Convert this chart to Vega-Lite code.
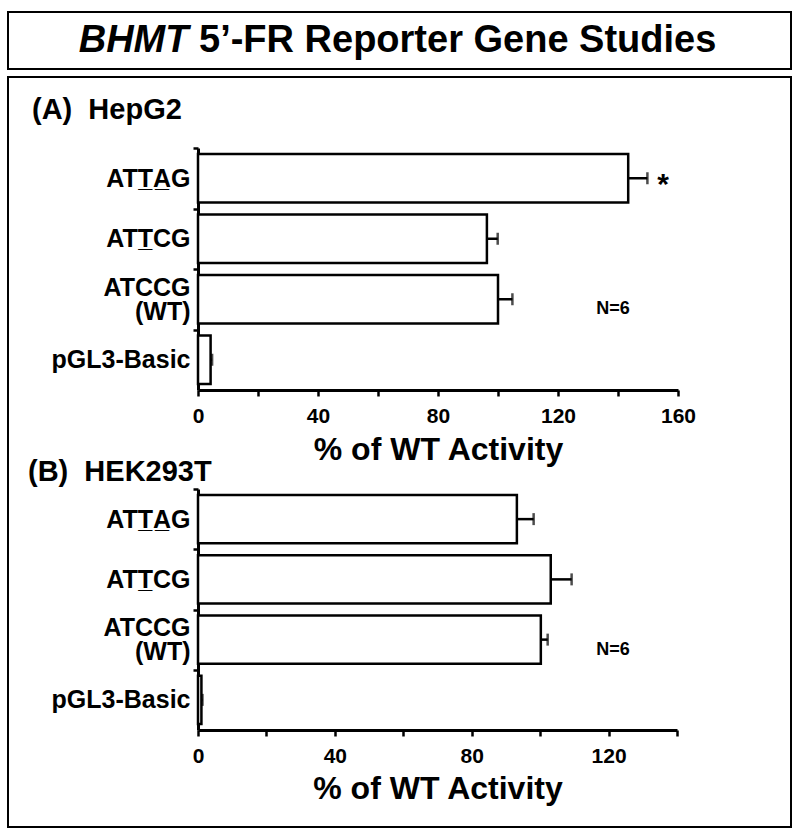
{
  "$schema": "https://vega.github.io/schema/vega-lite/v6.json",
  "padding": {"left": 7, "top": 11, "right": 0, "bottom": 0},
  "background": "white",
  "config": {
    "font": "Liberation Sans",
    "view": {"stroke": null},
    "axis": {"domainColor": "black", "domainWidth": 3, "tickColor": "black", "tickWidth": 2.5, "labelColor": "black", "titleColor": "black", "labelFont": "Liberation Sans", "titleFont": "Liberation Sans", "labelFontWeight": "bold", "titleFontWeight": "bold", "grid": false},
    "title": {"font": "Liberation Sans", "fontWeight": "bold", "color": "black"}
  },
  "datasets": {
    "hepg2": [
      {"construct": "ATTAG", "mean": 143.4, "upper": 149.8},
      {"construct": "ATTCG", "mean": 96.3, "upper": 99.9},
      {"construct": "ATCCG (WT)", "mean": 100, "upper": 104.8},
      {"construct": "pGL3-Basic", "mean": 4.2, "upper": 4.7}
    ],
    "hek": [
      {"construct": "ATTAG", "mean": 93.2, "upper": 98.1},
      {"construct": "ATTCG", "mean": 103.1, "upper": 109.2},
      {"construct": "ATCCG (WT)", "mean": 100.2, "upper": 102.2},
      {"construct": "pGL3-Basic", "mean": 1.0, "upper": 1.3}
    ]
  },
  "concat": [
    {
      "width": 783,
      "height": 57,
      "view": {"stroke": "black", "strokeWidth": 2},
      "layer": [
        {
          "data": {"values": [{"t": "BHMT"}]},
          "mark": {"type": "text", "font": "Liberation Sans", "fontWeight": "bold", "fontStyle": "italic", "fontSize": 38, "align": "right", "baseline": "middle", "dx": -211, "color": "black"},
          "encoding": {
            "text": {"field": "t"},
            "x": {"datum": 0.5, "type": "quantitative", "scale": {"domain": [0, 1]}, "axis": null},
            "y": {"datum": 0.5, "type": "quantitative", "scale": {"domain": [0, 1]}, "axis": null}
          }
        },
        {
          "data": {"values": [{"t": "5’-FR Reporter Gene Studies"}]},
          "mark": {"type": "text", "font": "Liberation Sans", "fontWeight": "bold", "fontSize": 38, "align": "left", "baseline": "middle", "dx": -200.5, "color": "black"},
          "encoding": {
            "text": {"field": "t"},
            "x": {"datum": 0.5, "type": "quantitative", "scale": {"domain": [0, 1]}, "axis": null},
            "y": {"datum": 0.5, "type": "quantitative", "scale": {"domain": [0, 1]}, "axis": null}
          }
        }
      ]
    },
    {
      "columns": 1,
      "align": "none",
      "spacing": -733,
      "concat": [
        {
          "width": 783,
          "height": 750,
          "view": {"stroke": "black", "strokeWidth": 2},
          "data": {"values": []},
          "mark": "point",
          "encoding": {}
        },
        {
          "spacing": 19,
          "hconcat": [
            {
              "width": 1,
              "height": 1,
              "data": {"values": []},
              "mark": "point",
              "encoding": {}
            },
            {
              "spacing": -8,
              "vconcat": [
                {
                  "width": 480,
                  "height": 242,
                  "title": {"text": "(A)\u00a0\u00a0HepG2", "anchor": "start", "frame": "group", "fontSize": 29, "dx": -166, "offset": 22},
                  "layer": [
                    {
                      "data": {"name": "hepg2"},
                      "mark": {"type": "bar", "fill": "white", "stroke": "black", "strokeWidth": 2.5},
                      "encoding": {
                        "y": {"field": "construct", "type": "nominal", "sort": ["ATTAG", "ATTCG", "ATCCG (WT)", "pGL3-Basic"], "scale": {"paddingInner": 0.2, "paddingOuter": 0.1}, "title": null,
                          "axis": {"labelFontSize": 25, "labelPadding": 3, "tickSize": 5, "bandPosition": 0, "tickOffset": -6, "labelLineHeight": 24, "labelLimit": 0,
                            "labelOffset": {"condition": {"test": "datum.value === 'ATCCG (WT)'", "value": -6}, "value": 6},
                            "labelExpr": "datum.value === 'ATTAG' ? 'ATT\u0332A\u0332G' : datum.value === 'ATTCG' ? 'ATT\u0332CG' : datum.value === 'ATCCG (WT)' ? ['ATCCG', '(WT)'] : datum.label"}},
                        "x": {"field": "mean", "type": "quantitative", "scale": {"domain": [0, 160], "nice": false}, "title": "% of WT Activity",
                          "axis": {"values": [0, 20, 40, 60, 80, 100, 120, 140, 160], "labelExpr": "datum.value % 40 === 0 ? datum.label : ''", "labelFontSize": 21, "titleFontSize": 32, "tickSize": 6, "labelPadding": 9, "titlePadding": 8, "labelFlush": false, "labelOverlap": false}}
                      }
                    },
                    {
                      "data": {"name": "hepg2"},
                      "mark": {"type": "rule", "stroke": "black", "strokeWidth": 2.5},
                      "encoding": {
                        "y": {"field": "construct", "type": "nominal", "sort": ["ATTAG", "ATTCG", "ATCCG (WT)", "pGL3-Basic"], "title": null},
                        "x": {"field": "mean", "type": "quantitative", "title": "% of WT Activity"},
                        "x2": {"field": "upper"}
                      }
                    },
                    {
                      "data": {"name": "hepg2"},
                      "mark": {"type": "tick", "color": "black", "orient": "vertical", "size": 12, "thickness": 2.5},
                      "encoding": {
                        "y": {"field": "construct", "type": "nominal", "sort": ["ATTAG", "ATTCG", "ATCCG (WT)", "pGL3-Basic"], "title": null},
                        "x": {"field": "upper", "type": "quantitative", "title": "% of WT Activity"}
                      }
                    },
                    {
                      "data": {"values": [{"construct": "ATTAG", "pos": 155, "label": "*"}]},
                      "mark": {"type": "text", "fontSize": 30, "fontWeight": "bold", "align": "center", "baseline": "middle", "dy": 7, "color": "black"},
                      "encoding": {
                        "y": {"field": "construct", "type": "nominal", "sort": ["ATTAG", "ATTCG", "ATCCG (WT)", "pGL3-Basic"], "title": null},
                        "x": {"field": "pos", "type": "quantitative", "title": "% of WT Activity"},
                        "text": {"field": "label"}
                      }
                    },
                    {
                      "data": {"values": [{"construct": "ATCCG (WT)", "pos": 138.3, "label": "N=6"}]},
                      "mark": {"type": "text", "fontSize": 18, "fontWeight": "bold", "align": "center", "baseline": "middle", "dy": 10, "color": "black"},
                      "encoding": {
                        "y": {"field": "construct", "type": "nominal", "sort": ["ATTAG", "ATTCG", "ATCCG (WT)", "pGL3-Basic"], "title": null},
                        "x": {"field": "pos", "type": "quantitative", "title": "% of WT Activity"},
                        "text": {"field": "label"}
                      }
                    }
                  ]
                },
                {
                  "width": 479,
                  "height": 241,
                  "title": {"text": "(B)\u00a0\u00a0HEK293T", "anchor": "start", "frame": "group", "fontSize": 29, "dx": -170, "offset": 1},
                  "layer": [
                    {
                      "data": {"name": "hek"},
                      "mark": {"type": "bar", "fill": "white", "stroke": "black", "strokeWidth": 2.5},
                      "encoding": {
                        "y": {"field": "construct", "type": "nominal", "sort": ["ATTAG", "ATTCG", "ATCCG (WT)", "pGL3-Basic"], "scale": {"paddingInner": 0.2, "paddingOuter": 0.1}, "title": null,
                          "axis": {"labelFontSize": 25, "labelPadding": 3, "tickSize": 5, "bandPosition": 0, "tickOffset": -6, "labelLineHeight": 24, "labelLimit": 0,
                            "labelOffset": {"condition": {"test": "datum.value === 'ATCCG (WT)'", "value": -6}, "value": 6},
                            "labelExpr": "datum.value === 'ATTAG' ? 'ATT\u0332A\u0332G' : datum.value === 'ATTCG' ? 'ATT\u0332CG' : datum.value === 'ATCCG (WT)' ? ['ATCCG', '(WT)'] : datum.label"}},
                        "x": {"field": "mean", "type": "quantitative", "scale": {"domain": [0, 140], "nice": false}, "title": "% of WT Activity",
                          "axis": {"values": [0, 20, 40, 60, 80, 100, 120, 140], "labelExpr": "datum.value % 40 === 0 ? datum.label : ''", "labelFontSize": 21, "titleFontSize": 32, "tickSize": 6, "labelPadding": 9, "titlePadding": 7, "labelFlush": false, "labelOverlap": false}}
                      }
                    },
                    {
                      "data": {"name": "hek"},
                      "mark": {"type": "rule", "stroke": "black", "strokeWidth": 2.5},
                      "encoding": {
                        "y": {"field": "construct", "type": "nominal", "sort": ["ATTAG", "ATTCG", "ATCCG (WT)", "pGL3-Basic"], "title": null},
                        "x": {"field": "mean", "type": "quantitative", "title": "% of WT Activity"},
                        "x2": {"field": "upper"}
                      }
                    },
                    {
                      "data": {"name": "hek"},
                      "mark": {"type": "tick", "color": "black", "orient": "vertical", "size": 12, "thickness": 2.5},
                      "encoding": {
                        "y": {"field": "construct", "type": "nominal", "sort": ["ATTAG", "ATTCG", "ATCCG (WT)", "pGL3-Basic"], "title": null},
                        "x": {"field": "upper", "type": "quantitative", "title": "% of WT Activity"}
                      }
                    },
                    {
                      "data": {"values": [{"construct": "ATCCG (WT)", "pos": 121.3, "label": "N=6"}]},
                      "mark": {"type": "text", "fontSize": 18, "fontWeight": "bold", "align": "center", "baseline": "middle", "dy": 10, "color": "black"},
                      "encoding": {
                        "y": {"field": "construct", "type": "nominal", "sort": ["ATTAG", "ATTCG", "ATCCG (WT)", "pGL3-Basic"], "title": null},
                        "x": {"field": "pos", "type": "quantitative", "title": "% of WT Activity"},
                        "text": {"field": "label"}
                      }
                    }
                  ]
                }
              ]
            }
          ]
        }
      ]
    }
  ],
  "columns": 1,
  "align": "none",
  "spacing": 6
}
